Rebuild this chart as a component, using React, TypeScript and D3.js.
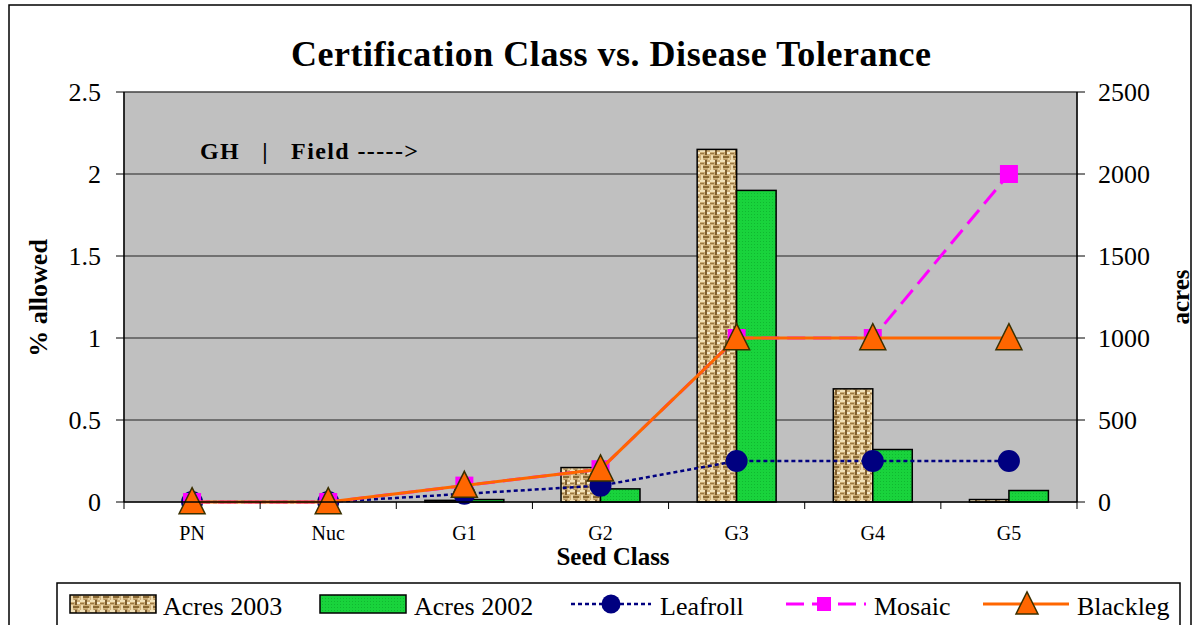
import React from 'react';
import * as d3 from 'd3';

const categories = ['PN', 'Nuc', 'G1', 'G2', 'G3', 'G4', 'G5'];
const acres2003 = [0, 0, 10, 210, 2150, 690, 15];
const acres2002 = [0, 0, 15, 80, 1900, 320, 70];
const leafroll = [0, 0, 0.05, 0.1, 0.25, 0.25, 0.25];
const mosaic = [0, 0, 0.1, 0.2, 1, 1, 2];
const blackleg = [0, 0, 0.1, 0.2, 1, 1, 1];
const leftTicks = [0, 0.5, 1, 1.5, 2, 2.5];
const rightTicks = [0, 500, 1000, 1500, 2000, 2500];
const leftTickLabels = ['0', '0.5', '1', '1.5', '2', '2.5'];
const rightTickLabels = ['0', '500', '1000', '1500', '2000', '2500'];

const W = 1195;
const H = 625;
const L = 124, R = 1077, T = 92, B = 502;
const FONT = '"Liberation Serif", "Times New Roman", serif';

const NAVY = '#000080';
const MAGENTA = '#FF00FF';
const ORANGE = '#FF6600';
const GREEN = '#19D33C';

function triPath(cx: number, cy: number, s: number) {
  const h = s;
  return `M${cx},${cy - h * 0.55} L${cx + s / 2},${cy + h * 0.45} L${cx - s / 2},${cy + h * 0.45} Z`;
}

export default function App() {
  const x = d3.scaleBand<string>().domain(categories).range([L, R]).padding(0);
  const yL = d3.scaleLinear().domain([0, 2.5]).range([B, T]);
  const yR = d3.scaleLinear().domain([0, 2500]).range([B, T]);
  const bw = x.bandwidth() * 0.29;
  const cx = (c: string) => (x(c) as number) + x.bandwidth() / 2;

  const line = d3
    .line<number>()
    .x((_, i) => cx(categories[i]))
    .y((d) => yL(d));

  const boundaries = d3.range(categories.length + 1).map((k) => L + k * x.bandwidth());

  return (
    <svg
      width={W}
      height={H}
      style={{ position: 'absolute', left: 0, top: 0, background: '#fff' }}
      fontFamily={FONT}
    >
      <defs>
        <pattern id="burlap" width="10" height="10" patternUnits="userSpaceOnUse">
          <rect width="10" height="10" fill="#CDAE78" />
          <rect x="0" y="0" width="5" height="2" fill="#F2E2BA" />
          <rect x="5" y="0" width="2" height="5" fill="#7E5D2E" />
          <rect x="0" y="3" width="4" height="1" fill="#9A7844" />
          <rect x="1" y="5" width="2" height="5" fill="#EEDAB0" />
          <rect x="3" y="6" width="6" height="2" fill="#8A6934" />
          <rect x="7" y="2" width="3" height="2" fill="#F5E8C8" />
          <rect x="8" y="8" width="2" height="2" fill="#E6CF9E" />
          <rect x="4" y="9" width="3" height="1" fill="#B08E5A" />
        </pattern>
        <pattern id="greenTex" width="3" height="3" patternUnits="userSpaceOnUse">
          <rect width="3" height="3" fill={GREEN} />
          <rect x="1" y="1" width="1" height="1" fill="#10B830" />
        </pattern>
      </defs>

      {/* outer frame */}
      <rect x={9} y={5} width={1182} height={640} fill="#fff" stroke="#000" strokeWidth={1.5} />

      {/* title */}
      <text x={291} y={66} fontSize={36} fontWeight="bold" textLength={640} lengthAdjust="spacing">
        Certification Class vs. Disease Tolerance
      </text>

      {/* plot area */}
      <rect x={L} y={T} width={R - L} height={B - T} fill="#C0C0C0" stroke="#808080" strokeWidth={1} />

      {/* gridlines */}
      {leftTicks.slice(1).map((t) => (
        <line key={'g' + t} x1={L} x2={R} y1={yL(t)} y2={yL(t)} stroke="#222" strokeWidth={1} />
      ))}

      {/* annotation */}
      <text x={200} y={159} fontSize={24} fontWeight="bold" textLength={218} lengthAdjust="spacing" xmlSpace="preserve">
        {'GH   |   Field ----->'}
      </text>

      {/* bars */}
      {categories.map((c, i) => (
        <g key={'b' + c}>
          {acres2003[i] > 0 && (
            <rect
              x={cx(c) - bw}
              y={yR(acres2003[i])}
              width={bw}
              height={B - yR(acres2003[i])}
              fill="url(#burlap)"
              stroke="#000"
              strokeWidth={1.5}
            />
          )}
          {acres2002[i] > 0 && (
            <rect
              x={cx(c)}
              y={yR(acres2002[i])}
              width={bw}
              height={B - yR(acres2002[i])}
              fill="url(#greenTex)"
              stroke="#000"
              strokeWidth={1.5}
            />
          )}
        </g>
      ))}

      {/* Leafroll */}
      <path d={line(leafroll) || ''} fill="none" stroke={NAVY} strokeWidth={2.5} strokeDasharray="4,3" />
      {leafroll.map((v, i) => (
        <circle key={'lc' + i} cx={cx(categories[i])} cy={yL(v)} r={11} fill={NAVY} />
      ))}

      {/* Mosaic */}
      <path d={line(mosaic) || ''} fill="none" stroke={MAGENTA} strokeWidth={3} strokeDasharray="18,8" />
      {mosaic.map((v, i) => (
        <rect key={'ms' + i} x={cx(categories[i]) - 9} y={yL(v) - 9} width={18} height={18} fill={MAGENTA} />
      ))}

      {/* Blackleg */}
      <path d={line(blackleg) || ''} fill="none" stroke={ORANGE} strokeWidth={3} />
      {blackleg.map((v, i) => (
        <path key={'bt' + i} d={triPath(cx(categories[i]), yL(v), 26)} fill={ORANGE} stroke="#3A3000" strokeWidth={1.5} />
      ))}

      {/* axes */}
      <line x1={L} x2={L} y1={T} y2={B} stroke="#000" strokeWidth={1.5} />
      <line x1={R} x2={R} y1={T} y2={B} stroke="#000" strokeWidth={1.5} />
      <line x1={L} x2={R} y1={B} y2={B} stroke="#000" strokeWidth={1.5} />
      {leftTicks.map((t, i) => (
        <g key={'lt' + t}>
          <line x1={L - 8} x2={L} y1={yL(t)} y2={yL(t)} stroke="#000" strokeWidth={1} />
          <text x={101} y={yL(t) + 9} fontSize={26} textAnchor="end">
            {leftTickLabels[i]}
          </text>
        </g>
      ))}
      {rightTicks.map((t, i) => (
        <g key={'rt' + t}>
          <line x1={R} x2={R + 8} y1={yR(t)} y2={yR(t)} stroke="#000" strokeWidth={1} />
          <text x={1098} y={yR(t) + 9} fontSize={26} textAnchor="start">
            {rightTickLabels[i]}
          </text>
        </g>
      ))}
      {boundaries.map((bx, k) => (
        <line key={'xt' + k} x1={bx} x2={bx} y1={B} y2={B + 7} stroke="#000" strokeWidth={1} />
      ))}
      {categories.map((c) => (
        <text key={'xl' + c} x={cx(c)} y={540} fontSize={20} textAnchor="middle">
          {c}
        </text>
      ))}

      {/* axis titles */}
      <text x={613} y={565} fontSize={25} fontWeight="bold" textAnchor="middle">
        Seed Class
      </text>
      <text transform="translate(47,298) rotate(-90)" fontSize={26} fontWeight="bold" textAnchor="middle">
        % allowed
      </text>
      <text transform="translate(1189,297) rotate(-90)" fontSize={25} fontWeight="bold" textAnchor="middle">
        acres
      </text>

      {/* legend */}
      <rect x={57} y={583} width={1123} height={60} fill="#fff" stroke="#000" strokeWidth={1.5} />
      <g fontSize={26}>
        <rect x={70} y={595} width={86} height={18} fill="url(#burlap)" stroke="#000" strokeWidth={1.5} />
        <text x={163} y={615}>Acres 2003</text>

        <rect x={320} y={595} width={86} height={18} fill="url(#greenTex)" stroke="#000" strokeWidth={1.5} />
        <text x={414} y={615}>Acres 2002</text>

        <line x1={571} x2={651} y1={604} y2={604} stroke={NAVY} strokeWidth={2.5} strokeDasharray="4,3" />
        <circle cx={611} cy={604} r={9.5} fill={NAVY} />
        <text x={660} y={615}>Leafroll</text>

        <line x1={782} x2={866} y1={604} y2={604} stroke={MAGENTA} strokeWidth={3} strokeDasharray="18,8" strokeDashoffset={-4} />
        <rect x={817} y={597} width={14} height={14} fill={MAGENTA} />
        <text x={874} y={615}>Mosaic</text>

        <line x1={983} x2={1069} y1={604} y2={604} stroke={ORANGE} strokeWidth={3} />
        <path d={triPath(1027, 604, 22)} fill={ORANGE} stroke="#3A3000" strokeWidth={1.5} />
        <text x={1077} y={615}>Blackleg</text>
      </g>
    </svg>
  );
}
